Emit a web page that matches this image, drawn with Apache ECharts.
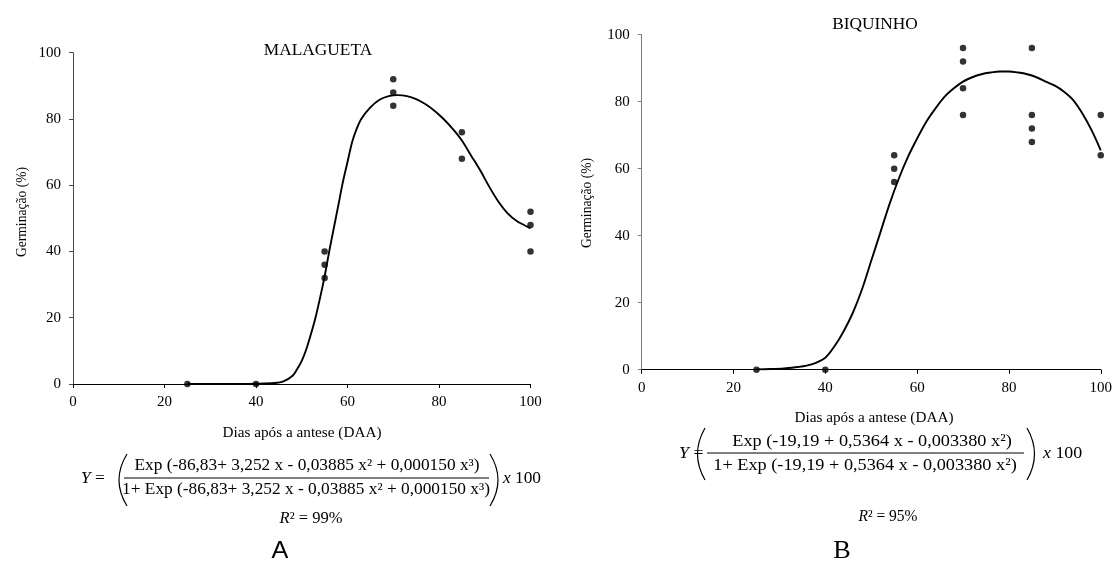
<!DOCTYPE html>
<html>
<head>
<meta charset="utf-8">
<script src="https://cdn.jsdelivr.net/npm/echarts@6/dist/echarts.min.js"></script>
<style>
html,body{margin:0;padding:0;background:#fff;}
#c{width:1115px;height:564px;}
</style>
</head>
<body>
<div id="c"></div>
<script>
// ---- data ----
const xTickInterval = 20;
const yTickInterval = 20;

// MALAGUETA observations [DAA, germination %]
const malaguetaObs = [[25,0],[40,0],[55,40],[55,36],[55,32],[70,92],[70,88],[70,84],[85,76],[85,68],[100,52],[100,48],[100,40]];
// MALAGUETA fitted curve
const malaguetaFitX = [25,30,35,40,44,46,48,49,50,51,52,53,54,55,56,57,58,59,60,61,62,63,65,67,69,71,73,75,77,79,81,83,85,87,89,91,93,95,97,100];
const malaguetaFitY = [0,0,0,0.1,0.3,0.8,2.5,4.5,7,10.5,15,20,26,32.5,40,47,54,61,67,73,77,80,83.5,85.8,86.9,87.2,86.9,86,84.5,82.5,80,77,73.5,69,64.5,59.5,55,51.5,49.2,47];

// BIQUINHO observations
const biquinhoObs = [[25,0],[40,0],[55,64],[55,60],[55,56],[70,96],[70,92],[70,84],[70,76],[85,96],[85,76],[85,72],[85,68],[100,76],[100,64]];
// BIQUINHO fitted curve
const biquinhoFitX = [25,28,31,34,37,40,42,44,46,48,50,52,54,56,58,60,62,64,66,68,70,72,74,76,78,80,82,84,86,88,90,92,94,96,98,100];
const biquinhoFitY = [0.1,0.2,0.4,0.8,1.6,3.6,7,11.5,17,24,32.5,41,49.5,57,63.5,69,74,78,81.5,84,86,87.3,88.2,88.7,89,89,88.7,88.2,87.3,86,84.8,83,80.5,76.5,71.5,65.5];

const titles = ['MALAGUETA', 'BIQUINHO'];
const xName = 'Dias após a antese (DAA)';
const yName = 'Germinação (%)';
const eqA = {num: 'Exp (-86,83+ 3,252 x - 0,03885 x² + 0,000150 x³)', den: '1+ Exp (-86,83+ 3,252 x - 0,03885 x² + 0,000150 x³)', r2: '99%'};
const eqB = {num: 'Exp (-19,19 + 0,5364 x - 0,003380 x²)', den: '1+ Exp (-19,19 + 0,5364 x - 0,003380 x²)', r2: '95%'};
const panelLabels = ['A', 'B'];

// ---- chart ----
const SERIF = 'Liberation Serif';
const SX = 1.05;
function zipXY(xs, ys){ return xs.map((x,i)=>[x, ys[i]]); }

function txt(x, y, text, o){
  o = o || {};
  const align = o.align || 'center';
  const size = o.size || 14;
  const fam = o.family || SERIF;
  return {
    type: 'text', x: x, y: y,
    scaleX: o.scaleX != null ? o.scaleX : SX,
    rotation: o.rotation || 0,
    silent: true,
    style: {
      text: text,
      fontFamily: fam,
      fontSize: size,
      fill: '#000',
      align: align, textAlign: align,
      verticalAlign: 'middle', textVerticalAlign: 'middle',
      rich: {
        i: {fontFamily: fam, fontSize: size, fontStyle: 'italic', fill:'#000'}
      }
    }
  };
}
function paren(x1, yTop, yBot, cx){
  return {type:'bezierCurve', silent:true,
    shape:{x1:x1, y1:yTop, x2:x1, y2:yBot, cpx1:cx, cpy1:(yTop+yBot)/2},
    style:{stroke:'#000', lineWidth:1.2, fill:null}};
}
function bar(x1, x2, y){
  return {type:'line', silent:true, shape:{x1:x1, y1:y, x2:x2, y2:y}, style:{stroke:'#000', lineWidth:1}};
}

function xAxisCfg(idx){
  return {
    type:'value', gridIndex: idx, min:0, max:100, interval:xTickInterval,
    axisLine:{show:true, onZero:false, lineStyle:{color:'#000', width:1}},
    axisTick:{show:true, inside:false, length:4, lineStyle:{color:'#000'}},
    axisLabel:{color:'#000', fontFamily:SERIF, fontSize:15, margin:11},
    splitLine:{show:false}
  };
}
function yAxisCfg(idx, color){
  return {
    type:'value', gridIndex: idx, min:0, max:100, interval:yTickInterval,
    axisLine:{show:true, onZero:false, lineStyle:{color:color, width:1}},
    axisTick:{show:true, inside:false, length:4, lineStyle:{color:color}},
    axisLabel:{color:'#000', fontFamily:SERIF, fontSize:15, margin:12},
    splitLine:{show:false}
  };
}

const graphics = [
  // titles
  txt(318, 51, titles[0], {size:16.5}),
  txt(875, 25, titles[1], {size:16.5}),
  // axis names
  txt(302, 433, xName, {size:14.5}),
  txt(874, 418, xName, {size:14.5}),
  txt(22, 212, yName, {size:13.6, rotation:Math.PI/2, scaleX:1}),
  txt(587, 203, yName, {size:13.6, rotation:Math.PI/2, scaleX:1}),
  // equation A
  txt(81, 479, '{i|Y} =', {size:16.5, align:'left'}),
  paren(127, 454, 506, 111),
  txt(307, 466, eqA.num, {size:16.5}),
  bar(124, 489, 478),
  txt(306, 490, eqA.den, {size:16.5}),
  paren(490, 454, 506, 506),
  txt(503, 479, '{i|x} 100', {size:16.5, align:'left'}),
  txt(311, 519, '{i|R}² = ' + eqA.r2, {size:16.5, scaleX:1}),
  txt(280, 551, panelLabels[0], {size:24, family:'Liberation Sans', scaleX:1.05}),
  // equation B
  txt(679, 454, '{i|Y} =', {size:17, align:'left'}),
  paren(705, 428, 480, 690),
  txt(872, 441, eqB.num, {size:17.4}),
  bar(707, 1024, 453),
  txt(865, 465, eqB.den, {size:17.4}),
  paren(1027, 428, 480, 1042),
  txt(1043, 454, '{i|x} 100', {size:17, align:'left'}),
  txt(888, 517, '{i|R}² = ' + eqB.r2, {size:16, scaleX:0.97}),
  txt(842, 551, panelLabels[1], {size:25, family:SERIF, scaleX:1.05})
];

const chart = echarts.init(document.getElementById('c'), null, {renderer:'canvas'});
chart.setOption({
  animation:false,
  backgroundColor:'#fff',
  grid:[
    {left:73, top:52.7, width:457.5, height:331.3, containLabel:false},
    {left:641.7, top:34.7, width:461.3, height:335, containLabel:false}
  ],
  xAxis:[xAxisCfg(0), xAxisCfg(1)],
  yAxis:[yAxisCfg(0,'#4a4a4a'), yAxisCfg(1,'#808080')],
  series:[
    {type:'line', xAxisIndex:0, yAxisIndex:0, data:zipXY(malaguetaFitX, malaguetaFitY), smooth:0.3, showSymbol:false,
      lineStyle:{color:'#000', width:1.9}, z:2},
    {type:'scatter', xAxisIndex:0, yAxisIndex:0, data:malaguetaObs, symbol:'circle', symbolSize:6.5,
      itemStyle:{color:'#000'}, z:3},
    {type:'line', xAxisIndex:1, yAxisIndex:1, data:zipXY(biquinhoFitX, biquinhoFitY), smooth:0.3, showSymbol:false,
      lineStyle:{color:'#000', width:1.9}, z:2},
    {type:'scatter', xAxisIndex:1, yAxisIndex:1, data:biquinhoObs, symbol:'circle', symbolSize:6.5,
      itemStyle:{color:'#000'}, z:3}
  ],
  graphic: graphics
});
</script>
</body>
</html>
